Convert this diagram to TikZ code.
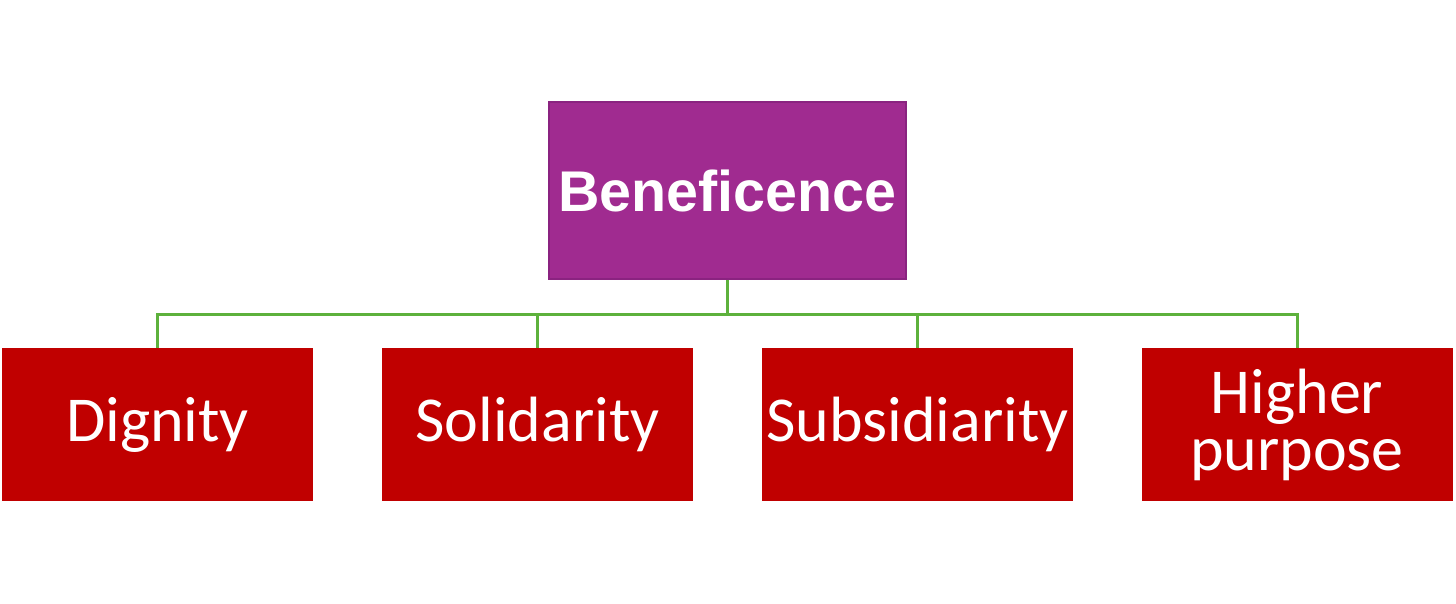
\documentclass[tikz,border=0pt]{standalone}
\usepackage{fontspec}
\newfontfamily\headfont{Liberation Sans}
\newfontfamily\childfont{Carlito}
\definecolor{topfill}{HTML}{A02B90}
\definecolor{topedge}{HTML}{8A2380}
\definecolor{childfill}{HTML}{C00000}
\definecolor{linkgreen}{HTML}{5DB13C}
\begin{document}
\begin{tikzpicture}[x=0.5pt,y=-0.5pt,
  topbox/.style={rectangle, fill=topfill, draw=topedge, line width=0.6pt,
    minimum width=178.5pt, minimum height=88.5pt, inner sep=0pt,
    text=white, font=\headfont\bfseries\fontsize{28.7}{32}\selectfont},
  childbox/.style={rectangle, fill=childfill, draw=none,
    minimum width=155.5pt, minimum height=76.5pt, inner sep=0pt,
    text=white, align=center, font=\childfont\fontsize{32}{28.5}\selectfont},
  link/.style={draw=linkgreen, line width=1.5pt}]
\useasboundingbox (0,0) rectangle (1456,604);
\node[topbox] (top) at (727.5,190.5) {Beneficence};
\node[childbox] (c1) at (157.5,424.5) {Dignity};
\node[childbox] (c2) at (537.5,424.5) {Solidarity};
\node[childbox] (c3) at (917.5,424.5) {Subsidiarity};
\node[childbox] (c4) at (1297,424.5) {Higher\\purpose};
\coordinate (bus) at (727.5,314);
\draw[link] (top.south) -- (bus);
\draw[link] (bus) -| (c1.north);
\draw[link] (bus) -| (c2.north);
\draw[link] (bus) -| (c3.north);
\draw[link] (bus) -| (c4.north);
\end{tikzpicture}
\end{document}
